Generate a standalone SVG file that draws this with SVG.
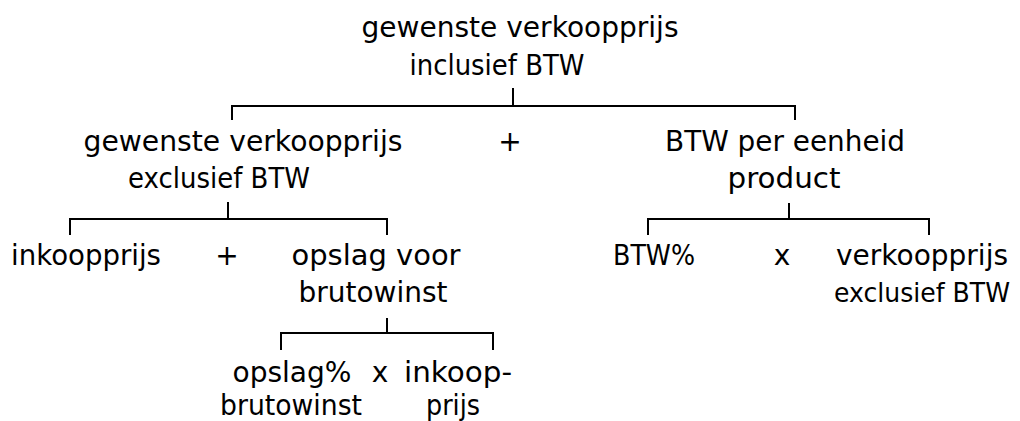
<svg xmlns="http://www.w3.org/2000/svg" width="1020" height="421" viewBox="0 0 1020 421">
<style>
text{font-family:"DejaVu Sans","Liberation Sans",sans-serif;font-size:28px;fill:#000;text-anchor:middle}
.c{stroke:#000;stroke-width:2;fill:none}
</style>
<rect width="1020" height="421" fill="#fff"/>
<g id="connectors">
<path class="c" d="M513 88V106M232 120V106H795V120"/>
<path class="c" d="M228 202V219M70 235V219H387V235"/>
<path class="c" d="M789 203V219M648 235V219H929V235"/>
<path class="c" d="M387 318V333M281 350V333H493V350"/>
</g>
<g id="n-root"><text x="520" y="37" textLength="317" lengthAdjust="spacingAndGlyphs">gewenste verkoopprijs</text><text x="497" y="75" textLength="175" lengthAdjust="spacingAndGlyphs">inclusief BTW</text></g>
<g id="n-excl"><text x="243" y="151" textLength="319" lengthAdjust="spacingAndGlyphs">gewenste verkoopprijs</text><text x="219" y="188" textLength="182" lengthAdjust="spacingAndGlyphs">exclusief BTW</text></g>
<g id="op-plus1"><text x="510" y="151">+</text></g>
<g id="n-btw"><text x="785" y="151" textLength="240" lengthAdjust="spacingAndGlyphs">BTW per eenheid</text><text x="784" y="188" textLength="113" lengthAdjust="spacingAndGlyphs">product</text></g>
<g id="n-inkoop"><text x="86" y="265" textLength="150" lengthAdjust="spacingAndGlyphs">inkoopprijs</text></g>
<g id="op-plus2"><text x="227" y="265">+</text></g>
<g id="n-opslag"><text x="376" y="265" textLength="169" lengthAdjust="spacingAndGlyphs">opslag voor</text><text x="373" y="302" textLength="149" lengthAdjust="spacingAndGlyphs">brutowinst</text></g>
<g id="n-btwpct"><text x="654" y="265" textLength="82" lengthAdjust="spacingAndGlyphs">BTW%</text></g>
<g id="op-x1"><text x="782" y="265">x</text></g>
<g id="n-vkp"><text x="922" y="265" textLength="172" lengthAdjust="spacingAndGlyphs">verkoopprijs</text><text x="922" y="302" style="font-size:26.5px" textLength="176" lengthAdjust="spacingAndGlyphs">exclusief BTW</text></g>
<g id="n-opslagpct"><text x="292" y="382" textLength="119" lengthAdjust="spacingAndGlyphs">opslag%</text><text x="291" y="415" textLength="142" lengthAdjust="spacingAndGlyphs">brutowinst</text></g>
<g id="op-x2"><text x="380" y="382">x</text></g>
<g id="n-inkoop2"><text x="458" y="382" textLength="108" lengthAdjust="spacingAndGlyphs">inkoop-</text><text x="453" y="415" textLength="54" lengthAdjust="spacingAndGlyphs">prijs</text></g>
</svg>
